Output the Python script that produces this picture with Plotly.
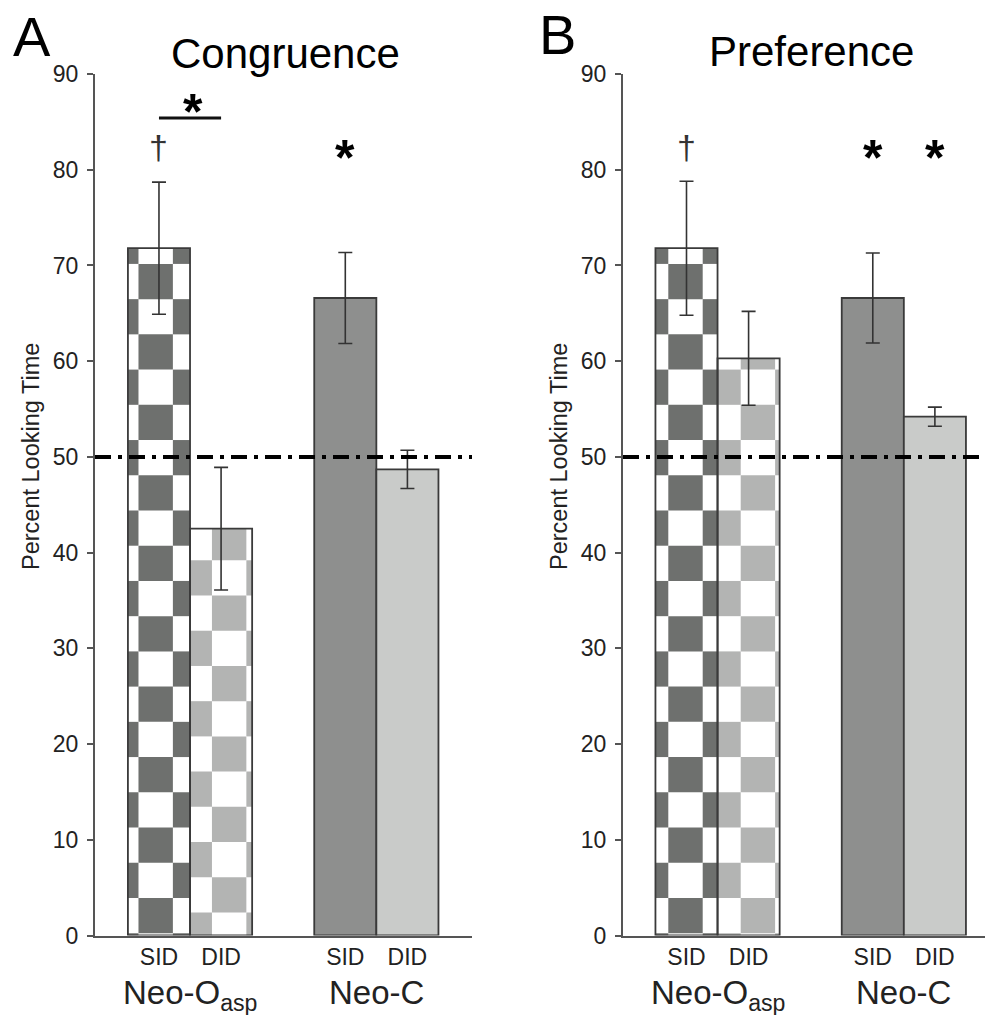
import math
import plotly.graph_objects as go

# ---------------- data ----------------
conditions = ["SID", "DID", "SID", "DID"]
groups = ["Neo-O<sub>asp</sub>", "Neo-C"]
x_pos = [0, 1, 3, 4]
group_pos = [0.5, 3.5]

congruence_mean = [71.8, 42.5, 66.6, 48.7]
congruence_err = [6.9, 6.4, 4.75, 2.0]
preference_mean = [71.8, 60.3, 66.6, 54.2]
preference_err = [7.0, 4.9, 4.7, 1.0]

chance_level = 50
yticks = [0, 10, 20, 30, 40, 50, 60, 70, 80, 90]

# significance marks: (x, y, text)
congruence_marks = [(0, 82.4, "†"), (0.55, 87.2, "*"), (3, 82.4, "*")]
congruence_bracket = [(0, 1), 85.4]
preference_marks = [(0, 82.4, "†"), (3, 82.4, "*"), (4, 82.4, "*")]

# ---------------- style ----------------
FONT = "Liberation Sans, Arial, sans-serif"
DARK_CHECK = "#6e706e"
LIGHT_CHECK = "#b3b4b3"
SOLID_SID = "#8e8f8e"
SOLID_DID = "#c9cbc9"
EDGE = "#3a3a3a"
AXIS = "#555555"
TXT = "#222222"

CELL_W = 0.554
CELL_H = 3.68
BAR_W = 1.0

phase_A = [(-0.33, 0.24), (0.853, 2.4)]
phase_B = [(-0.293, 0.24), (0.873, 0.24)]
check_colors = [DARK_CHECK, LIGHT_CHECK]

fig = go.Figure()


def checker_shapes(xc, val, ox, oy, color, xref, yref):
    shapes = []
    left, right = xc - BAR_W / 2, xc + BAR_W / 2
    i0 = math.floor((left - ox) / CELL_W)
    i1 = math.floor((right - ox) / CELL_W)
    j0 = math.floor((0 - oy) / CELL_H)
    j1 = math.floor((val - oy) / CELL_H)
    for i in range(i0, i1 + 1):
        for j in range(j0, j1 + 1):
            if (i + j) % 2 != 0:
                continue
            x0 = max(left, ox + i * CELL_W)
            x1 = min(right, ox + (i + 1) * CELL_W)
            y0 = max(0, oy + j * CELL_H)
            y1 = min(val, oy + (j + 1) * CELL_H)
            if x1 <= x0 or y1 <= y0:
                continue
            shapes.append(dict(type="rect", xref=xref, yref=yref, x0=x0, x1=x1,
                               y0=y0, y1=y1, fillcolor=color, line=dict(width=0),
                               layer="below"))
    return shapes


shapes = []
annotations = []

panels = [
    dict(mean=congruence_mean, err=congruence_err, phase=phase_A, xa="x", ya="y",
         marks=congruence_marks),
    dict(mean=preference_mean, err=preference_err, phase=phase_B, xa="x2", ya="y2",
         marks=preference_marks),
]

for p in panels:
    fig.add_trace(go.Bar(
        x=x_pos, y=p["mean"], width=BAR_W,
        xaxis=p["xa"], yaxis=p["ya"],
        marker=dict(color=["rgba(0,0,0,0)", "rgba(0,0,0,0)", SOLID_SID, SOLID_DID],
                    line=dict(color=EDGE, width=1.8)),
        error_y=dict(type="data", array=p["err"], color="#333333", thickness=1.6, width=7),
        showlegend=False, hoverinfo="skip",
    ))
    for k in range(2):
        ox, oy = p["phase"][k]
        shapes += checker_shapes(x_pos[k], p["mean"][k], ox, oy, check_colors[k],
                                 p["xa"], p["ya"])
    shapes.append(dict(type="line", xref=p["xa"] + " domain", yref=p["ya"],
                       x0=0, x1=1, y0=chance_level, y1=chance_level, layer="above",
                       line=dict(color="black", width=4, dash="16px,7px,4px,7px")))
    for (mx, my, mt) in p["marks"]:
        if mt == "*":
            annotations.append(dict(x=mx, y=my, xref=p["xa"], yref=p["ya"], text="<b>*</b>",
                                    showarrow=False, font=dict(family=FONT, size=50, color="black"),
                                    yshift=-11))
        else:
            annotations.append(dict(x=mx, y=my, xref=p["xa"], yref=p["ya"], text=mt,
                                    showarrow=False, font=dict(family=FONT, size=34, color="#333333")))
    for g, gx in zip(groups, group_pos):
        annotations.append(dict(x=gx, y=1 - 972 / 1015, xref=p["xa"], yref="paper", text=g,
                                showarrow=False, yanchor="top",
                                font=dict(family=FONT, size=33, color=TXT)))

shapes.append(dict(type="line", xref="x", yref="y", x0=congruence_bracket[0][0],
                   x1=congruence_bracket[0][1], y0=congruence_bracket[1],
                   y1=congruence_bracket[1], line=dict(color="#111111", width=3),
                   layer="above"))

for txt, cx, cy, size in [("Congruence", 285, 53, 42), ("Preference", 811, 52, 42),
                          ("A", 32, 36, 56), ("B", 557, 35, 56)]:
    annotations.append(dict(x=cx / 985, y=1 - cy / 1015, xref="paper", yref="paper", text=txt,
                            showarrow=False, xanchor="center", yanchor="middle",
                            font=dict(family=FONT, size=size, color="black")))
for cx in [31, 559]:
    annotations.append(dict(x=cx / 985, y=1 - 457 / 1015, xref="paper", yref="paper",
                            text="Percent Looking Time", textangle=-90, showarrow=False,
                            xanchor="center", yanchor="middle",
                            font=dict(family=FONT, size=23.5, color=TXT)))

ydom = [1 - 935.5 / 1015, 1 - 74 / 1015]
yaxis_common = dict(range=[0, 90], domain=ydom, tickvals=yticks, showline=True,
                    linecolor=AXIS, linewidth=2, ticks="outside", ticklen=6,
                    tickcolor=AXIS, tickwidth=1.5, showgrid=False, zeroline=False,
                    automargin=False,
                    tickfont=dict(family=FONT, size=23, color=TXT), ticklabelstandoff=4)
xaxis_common = dict(tickvals=x_pos, ticktext=conditions, showline=True, linecolor=AXIS,
                    linewidth=2, ticks="", showgrid=False, zeroline=False, automargin=False,
                    tickfont=dict(family=FONT, size=23, color=TXT))

fig.update_layout(
    width=985, height=1015, margin=dict(l=0, r=0, t=0, b=0, pad=0, autoexpand=False),
    autosize=False,
    paper_bgcolor="white", plot_bgcolor="white",
    barmode="overlay",
    xaxis=dict(domain=[95 / 985, 472 / 985], range=[-1.03, 5.04], anchor="y", **xaxis_common),
    yaxis=dict(anchor="x", **yaxis_common),
    xaxis2=dict(domain=[623 / 985, 1.0], range=[-1.0225, 4.807], anchor="y2", **xaxis_common),
    yaxis2=dict(anchor="x2", **yaxis_common),
    shapes=shapes, annotations=annotations,
)

fig.write_html("out.html")
